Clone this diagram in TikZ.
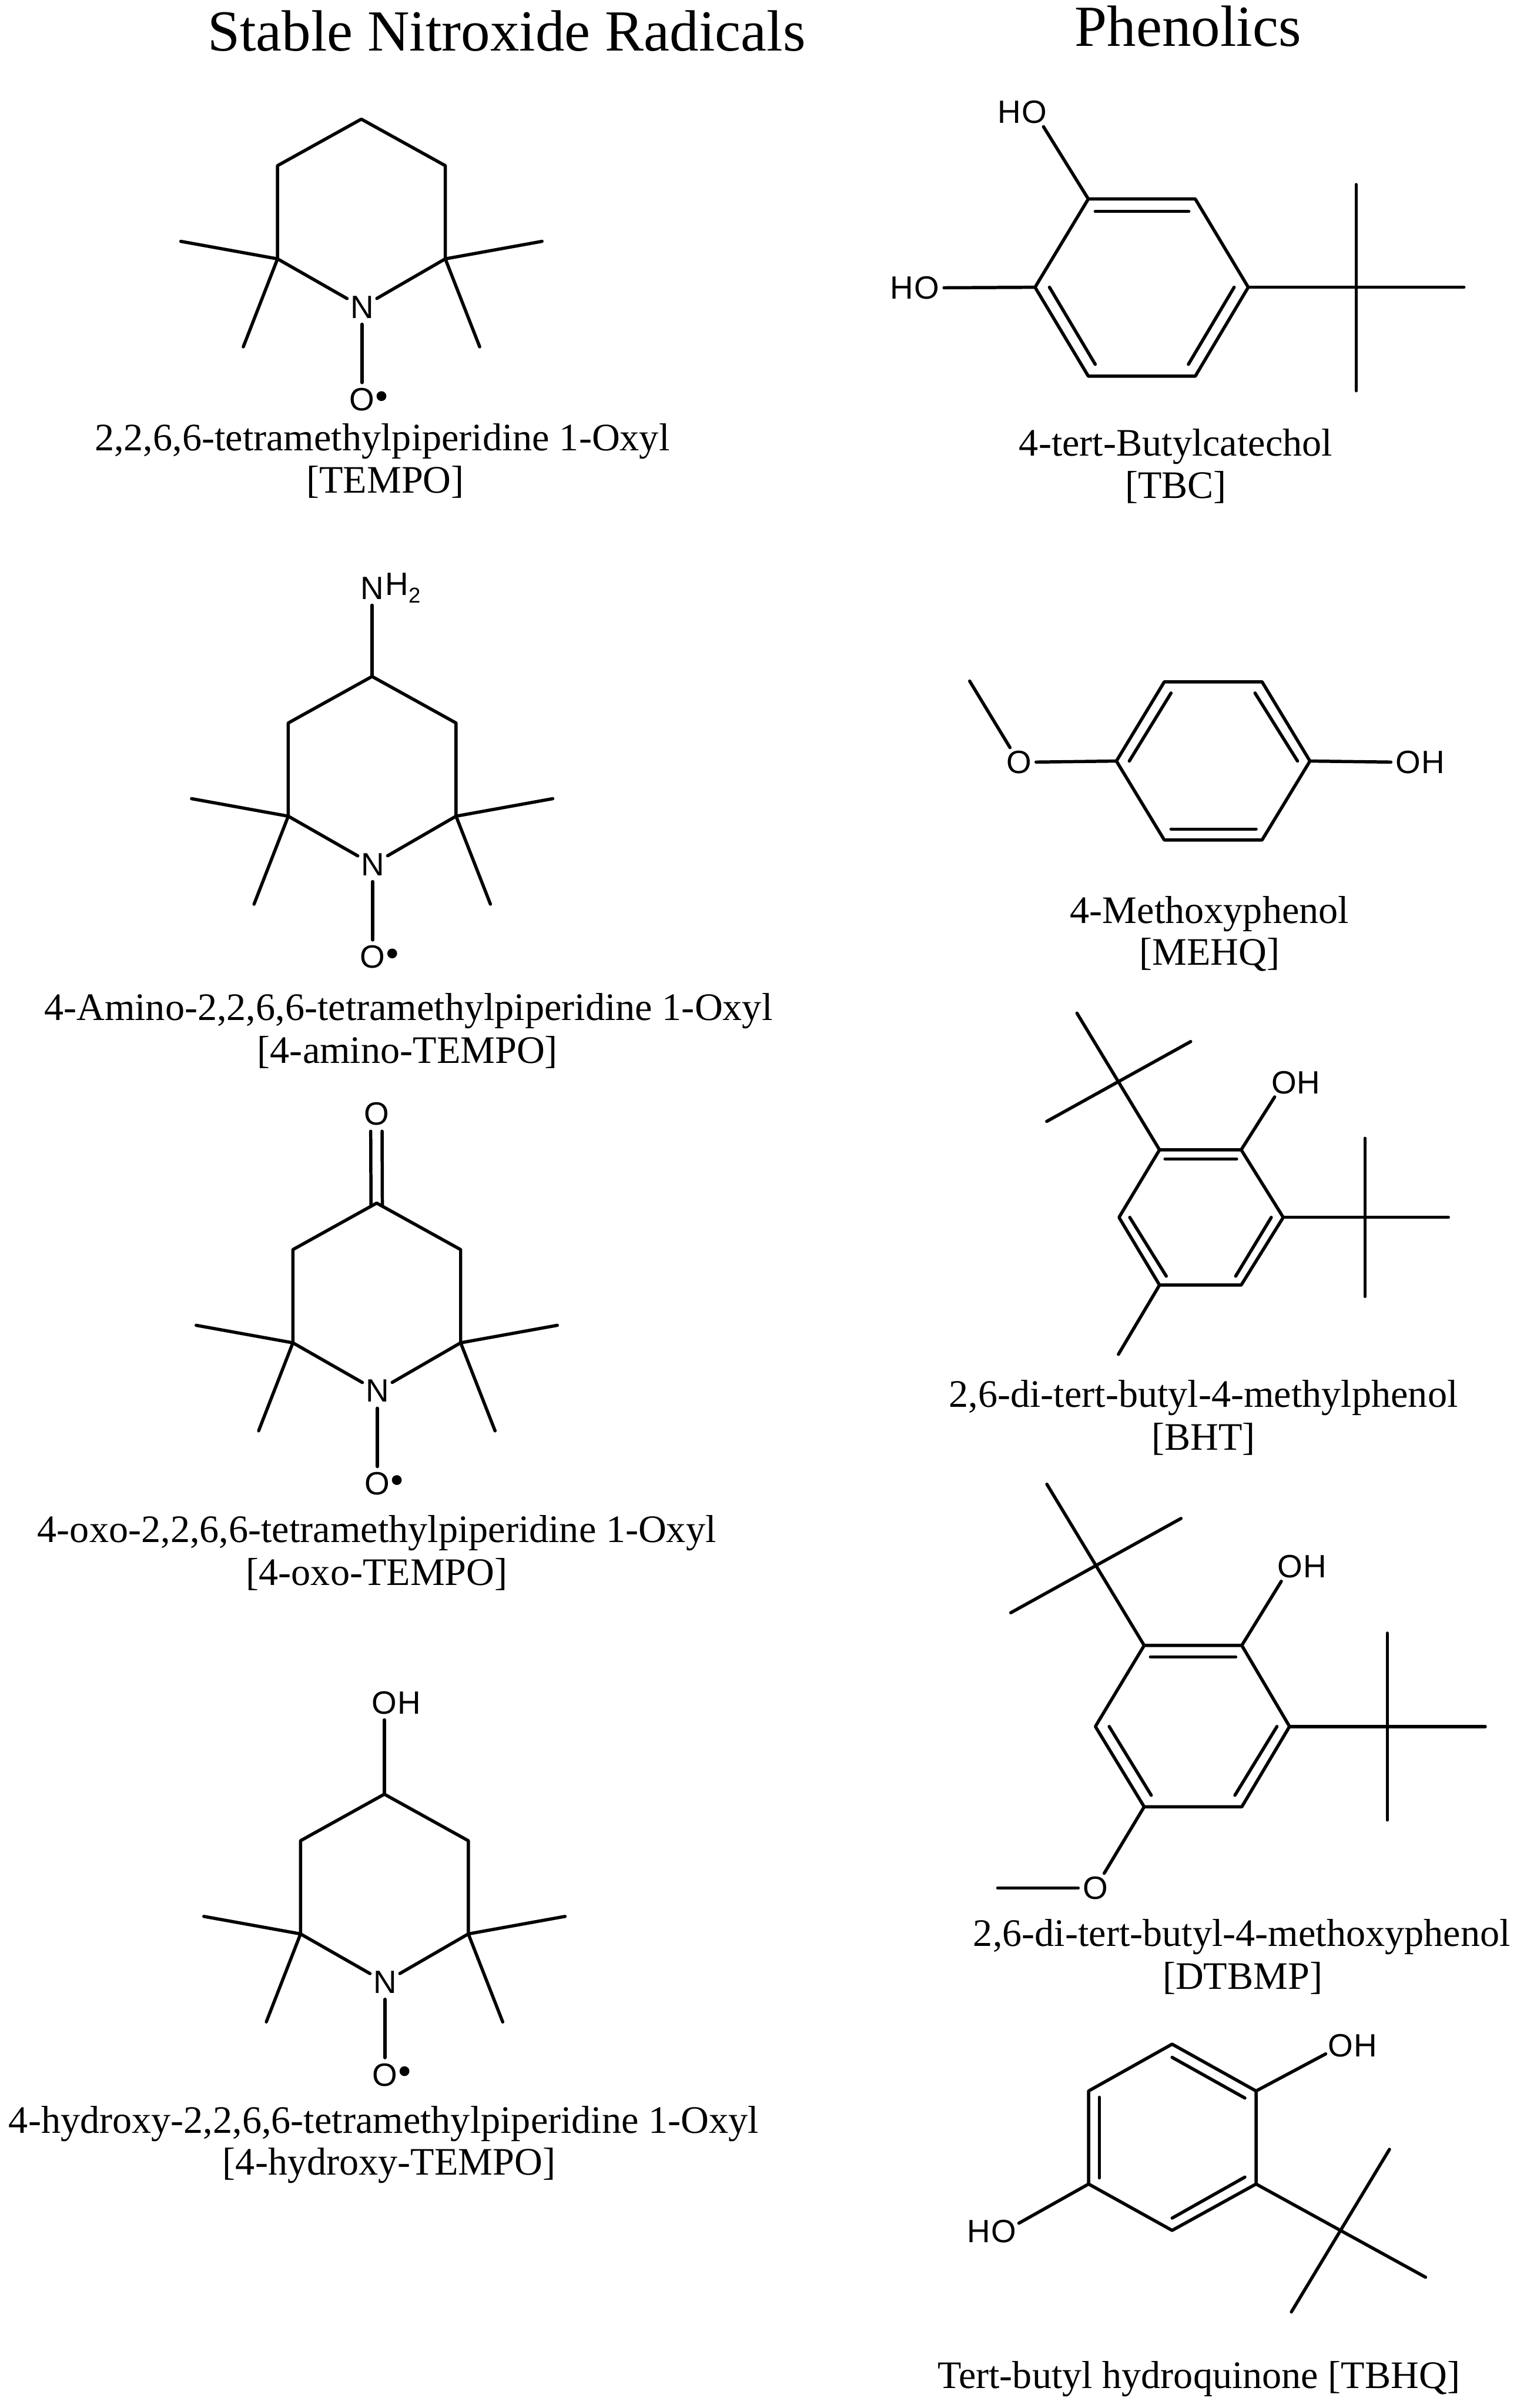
\documentclass[tikz,border=0pt]{standalone}
\usepackage{fontspec}
\usepackage{tikz}
\usetikzlibrary{positioning}
\setmainfont{Liberation Serif}
\newfontfamily\atomfont{Liberation Sans}
\definecolor{ink}{RGB}{0,0,0}
\tikzset{
  bond/.style={draw=ink, line width=2.1pt, line cap=round, line join=round},
  atom/.style={circle, inner sep=0pt, minimum size=22pt, text=ink, font=\atomfont\fontsize{21}{21}\selectfont},
  hatom/.style={inner sep=0pt, label distance=-2.8pt, text=ink, font=\atomfont\fontsize{21}{21}\selectfont},
  radical/.style={circle, fill=ink, inner sep=0pt, minimum size=6.4pt},
  caption/.style={anchor=base, inner sep=0pt, text=ink, font=\fontsize{25.35}{26}\selectfont},
  heading/.style={anchor=base, inner sep=0pt, text=ink, font=\fontsize{37.9}{38}\selectfont}
}
\begin{document}
\begin{tikzpicture}[x=1pt, y=-1pt]
        \useasboundingbox (0,0) rectangle (988,1568.4);

        % Headings
        \node[heading] (titleleft) at (330,33) {Stable Nitroxide Radicals};
        \node[heading] (titleright) at (774,30) {Phenolics};

        % TEMPO
        \coordinate (tempoC2) at (180.8,168.6);
        \coordinate (tempoC3) at (180.8,107.9);
        \coordinate (tempoC4) at (235.4,77.6);
        \coordinate (tempoC5) at (290.1,107.9);
        \coordinate (tempoC6) at (290.1,168.6);
        \coordinate (tempoMa) at (117.8,157.2);
        \coordinate (tempoMb) at (158.5,225.9);
        \coordinate (tempoMc) at (353.1,157.2);
        \coordinate (tempoMd) at (312.5,225.9);
        \node[atom] (tempoN) at (235.8,200) {N};
        \node[atom] (tempoO) at (235.8,260.4) {O};
        \node[radical] (tempoDot) at (248.5,258) {};
        \draw[bond] (tempoC2) -- (tempoC3) -- (tempoC4) -- (tempoC5) -- (tempoC6);
        \draw[bond] (tempoC2) -- (tempoN);
        \draw[bond] (tempoC6) -- (tempoN);
        \draw[bond] (tempoN) -- (tempoO);
        \draw[bond] (tempoMa) -- (tempoC2) -- (tempoMb);
        \draw[bond] (tempoMc) -- (tempoC6) -- (tempoMd);
        \node[caption] (tempoName) at (249,293.5) {2,2,6,6-tetramethylpiperidine 1-Oxyl};
        \node[caption] (tempoTag) at (251,321) {[TEMPO]};

        % 4-amino-TEMPO
        \begin{scope}[shift={(7,363)}]
            \coordinate (aminoC2) at (180.8,168.6);
            \coordinate (aminoC3) at (180.8,107.9);
            \coordinate (aminoC4) at (235.4,77.6);
            \coordinate (aminoC5) at (290.1,107.9);
            \coordinate (aminoC6) at (290.1,168.6);
            \coordinate (aminoMa) at (117.8,157.2);
            \coordinate (aminoMb) at (158.5,225.9);
            \coordinate (aminoMc) at (353.1,157.2);
            \coordinate (aminoMd) at (312.5,225.9);
            \node[atom] (aminoN) at (235.8,200) {N};
            \node[atom] (aminoO) at (235.8,260.4) {O};
            \node[radical] (aminoDot) at (248.5,258) {};
            \node[atom, label={[hatom]0:H\raisebox{-5pt}{\smash{\fontsize{14}{14}\selectfont 2}}}] (aminoNH) at (235.4,20) {N};
        \end{scope}
        \draw[bond] (aminoC2) -- (aminoC3) -- (aminoC4) -- (aminoC5) -- (aminoC6);
        \draw[bond] (aminoC2) -- (aminoN);
        \draw[bond] (aminoC6) -- (aminoN);
        \draw[bond] (aminoN) -- (aminoO);
        \draw[bond] (aminoC4) -- (aminoNH);
        \draw[bond] (aminoMa) -- (aminoC2) -- (aminoMb);
        \draw[bond] (aminoMc) -- (aminoC6) -- (aminoMd);
        \node[caption] (aminoName) at (266,664.5) {4-Amino-2,2,6,6-tetramethylpiperidine 1-Oxyl};
        \node[caption] (aminoTag) at (265.5,692.5) {[4-amino-TEMPO]};

        % 4-oxo-TEMPO
        \begin{scope}[shift={(10,706)}]
            \coordinate (oxoC2) at (180.8,168.6);
            \coordinate (oxoC3) at (180.8,107.9);
            \coordinate (oxoC4) at (235.4,77.6);
            \coordinate (oxoC5) at (290.1,107.9);
            \coordinate (oxoC6) at (290.1,168.6);
            \coordinate (oxoMa) at (117.8,157.2);
            \coordinate (oxoMb) at (158.5,225.9);
            \coordinate (oxoMc) at (353.1,157.2);
            \coordinate (oxoMd) at (312.5,225.9);
            \node[atom] (oxoN) at (235.8,200) {N};
            \node[atom] (oxoO) at (235.8,260.4) {O};
            \node[radical] (oxoDot) at (248.5,258) {};
            \node[atom] (oxoKeto) at (235.2,19.6) {O};
        \end{scope}
        \draw[bond] (oxoC2) -- (oxoC3) -- (oxoC4) -- (oxoC5) -- (oxoC6);
        \draw[bond] (oxoC2) -- (oxoN);
        \draw[bond] (oxoC6) -- (oxoN);
        \draw[bond] (oxoN) -- (oxoO);
        \draw[bond] ([xshift=-3.7pt]oxoKeto.south) -- ([xshift=-3.7pt,yshift=-2pt]oxoC4);
        \draw[bond] ([xshift=3.7pt]oxoKeto.south) -- ([xshift=3.7pt,yshift=-2pt]oxoC4);
        \draw[bond] (oxoMa) -- (oxoC2) -- (oxoMb);
        \draw[bond] (oxoMc) -- (oxoC6) -- (oxoMd);
        \node[caption] (oxoName) at (245.5,1004.5) {4-oxo-2,2,6,6-tetramethylpiperidine 1-Oxyl};
        \node[caption] (oxoTag) at (245.5,1032.5) {[4-oxo-TEMPO]};

        % 4-hydroxy-TEMPO
        \begin{scope}[shift={(15,1091)}]
            \coordinate (hydroxyC2) at (180.8,168.6);
            \coordinate (hydroxyC3) at (180.8,107.9);
            \coordinate (hydroxyC4) at (235.4,77.6);
            \coordinate (hydroxyC5) at (290.1,107.9);
            \coordinate (hydroxyC6) at (290.1,168.6);
            \coordinate (hydroxyMa) at (117.8,157.2);
            \coordinate (hydroxyMb) at (158.5,225.9);
            \coordinate (hydroxyMc) at (353.1,157.2);
            \coordinate (hydroxyMd) at (312.5,225.9);
            \node[atom] (hydroxyN) at (235.8,200) {N};
            \node[atom] (hydroxyO) at (235.8,260.4) {O};
            \node[radical] (hydroxyDot) at (248.5,258) {};
            \node[atom, label={[hatom]0:H}] (hydroxyOH) at (235.4,18) {O};
        \end{scope}
        \draw[bond] (hydroxyC2) -- (hydroxyC3) -- (hydroxyC4) -- (hydroxyC5) -- (hydroxyC6);
        \draw[bond] (hydroxyC2) -- (hydroxyN);
        \draw[bond] (hydroxyC6) -- (hydroxyN);
        \draw[bond] (hydroxyN) -- (hydroxyO);
        \draw[bond] (hydroxyC4) -- (hydroxyOH);
        \draw[bond] (hydroxyMa) -- (hydroxyC2) -- (hydroxyMb);
        \draw[bond] (hydroxyMc) -- (hydroxyC6) -- (hydroxyMd);
        \node[caption] (hydroxyName) at (250,1389.5) {4-hydroxy-2,2,6,6-tetramethylpiperidine 1-Oxyl};
        \node[caption] (hydroxyTag) at (253.5,1416.5) {[4-hydroxy-TEMPO]};

        % TBC
        \coordinate (tbcA) at (709,129.6);
        \coordinate (tbcB) at (778.7,129.6);
        \coordinate (tbcC) at (813.2,187.1);
        \coordinate (tbcD) at (778.7,245);
        \coordinate (tbcE) at (709,245);
        \coordinate (tbcF) at (674.3,187.1);
        \coordinate (tbcT) at (883.5,187.1);
        \coordinate (tbcTa) at (883.5,120.2);
        \coordinate (tbcTb) at (883.5,254.5);
        \coordinate (tbcTc) at (953.7,187.1);
        \coordinate (tbcIa) at (713.5,137.7);
        \coordinate (tbcIb) at (774.5,137.7);
        \coordinate (tbcIc) at (683.7,187.1);
        \coordinate (tbcId) at (713.5,237.3);
        \coordinate (tbcIe) at (804,187.1);
        \coordinate (tbcIf) at (774.2,237.3);
        \node[atom, label={[hatom]180:H}] (tbcOa) at (673.9,73) {O};
        \node[atom, label={[hatom]180:H}] (tbcOb) at (603.8,187.5) {O};
        \draw[bond] (tbcA) -- (tbcB) -- (tbcC) -- (tbcD) -- (tbcE) -- (tbcF) -- cycle;
        \draw[bond] (tbcIa) -- (tbcIb);
        \draw[bond] (tbcIc) -- (tbcId);
        \draw[bond] (tbcIe) -- (tbcIf);
        \draw[bond] (tbcA) -- (tbcOa);
        \draw[bond] (tbcF) -- (tbcOb);
        \draw[bond] (tbcC) -- (tbcTc);
        \draw[bond] (tbcTa) -- (tbcTb);
        \node[caption] (tbcName) at (766,297) {4-tert-Butylcatechol};
        \node[caption] (tbcTag) at (766,324.5) {[TBC]};

        % MEHQ
        \coordinate (mehqA) at (727.3,495.7);
        \coordinate (mehqB) at (758.5,444.1);
        \coordinate (mehqC) at (822.2,444.1);
        \coordinate (mehqD) at (853.4,495.7);
        \coordinate (mehqE) at (822.2,547.1);
        \coordinate (mehqF) at (758.5,547.1);
        \coordinate (mehqM) at (631.7,443.6);
        \coordinate (mehqIa) at (735.7,495.7);
        \coordinate (mehqIb) at (762.9,451.4);
        \coordinate (mehqIc) at (845.3,495.7);
        \coordinate (mehqId) at (817.6,451.4);
        \coordinate (mehqIe) at (762.9,540);
        \coordinate (mehqIf) at (818.3,540);
        \node[atom] (mehqO) at (663.8,496.5) {O};
        \node[atom, label={[hatom]0:H}] (mehqOH) at (917.3,496.5) {O};
        \draw[bond] (mehqA) -- (mehqB) -- (mehqC) -- (mehqD) -- (mehqE) -- (mehqF) -- cycle;
        \draw[bond] (mehqIa) -- (mehqIb);
        \draw[bond] (mehqIc) -- (mehqId);
        \draw[bond] (mehqIe) -- (mehqIf);
        \draw[bond] (mehqM) -- (mehqO);
        \draw[bond] (mehqO) -- (mehqA);
        \draw[bond] (mehqD) -- (mehqOH);
        \node[caption] (mehqName) at (788,601.5) {4-Methoxyphenol};
        \node[caption] (mehqTag) at (788,628.5) {[MEHQ]};

        % BHT
        \coordinate (bhtA) at (755.4,748.9);
        \coordinate (bhtB) at (808.6,748.9);
        \coordinate (bhtC) at (836,792.9);
        \coordinate (bhtD) at (808.6,837);
        \coordinate (bhtE) at (755.4,837);
        \coordinate (bhtF) at (729,792.9);
        \coordinate (bhtS) at (729,705);
        \coordinate (bhtSa) at (701.6,659.9);
        \coordinate (bhtSb) at (775.7,678.4);
        \coordinate (bhtSc) at (681.9,730.4);
        \coordinate (bhtT) at (889.2,792.9);
        \coordinate (bhtTa) at (889.2,741.4);
        \coordinate (bhtTb) at (889.2,844.4);
        \coordinate (bhtTc) at (943.6,792.9);
        \coordinate (bhtM) at (728.6,882.1);
        \coordinate (bhtIa) at (759,754.9);
        \coordinate (bhtIb) at (805.6,754.9);
        \coordinate (bhtIc) at (736,792.9);
        \coordinate (bhtId) at (759.8,831.2);
        \coordinate (bhtIe) at (828.2,792.9);
        \coordinate (bhtIf) at (805,831.2);
        \node[atom, label={[hatom]0:H}] (bhtOH) at (836.4,705) {O};
        \draw[bond] (bhtA) -- (bhtB) -- (bhtC) -- (bhtD) -- (bhtE) -- (bhtF) -- cycle;
        \draw[bond] (bhtIa) -- (bhtIb);
        \draw[bond] (bhtIc) -- (bhtId);
        \draw[bond] (bhtIe) -- (bhtIf);
        \draw[bond] (bhtB) -- (bhtOH);
        \draw[bond] (bhtA) -- (bhtSa);
        \draw[bond] (bhtSb) -- (bhtSc);
        \draw[bond] (bhtC) -- (bhtTc);
        \draw[bond] (bhtTa) -- (bhtTb);
        \draw[bond] (bhtE) -- (bhtM);
        \node[caption] (bhtName) at (784,916.5) {2,6-di-tert-butyl-4-methylphenol};
        \node[caption] (bhtTag) at (784,944.5) {[BHT]};

        % DTBMP
        \coordinate (dtbmpA) at (745.4,1071.7);
        \coordinate (dtbmpB) at (809,1071.7);
        \coordinate (dtbmpC) at (840.1,1124.5);
        \coordinate (dtbmpD) at (809,1176.8);
        \coordinate (dtbmpE) at (745.4,1176.8);
        \coordinate (dtbmpF) at (713.6,1124.5);
        \coordinate (dtbmpS) at (713.6,1020);
        \coordinate (dtbmpSa) at (682,966.7);
        \coordinate (dtbmpSb) at (769.4,989);
        \coordinate (dtbmpSc) at (658.5,1050.4);
        \coordinate (dtbmpT) at (903.8,1124.5);
        \coordinate (dtbmpTa) at (903.8,1063.7);
        \coordinate (dtbmpTb) at (903.8,1185.4);
        \coordinate (dtbmpTc) at (967.6,1124.5);
        \coordinate (dtbmpM) at (650,1229.7);
        \coordinate (dtbmpIa) at (749.5,1079.2);
        \coordinate (dtbmpIb) at (805,1079.2);
        \coordinate (dtbmpIc) at (722.6,1124.5);
        \coordinate (dtbmpId) at (750,1169.3);
        \coordinate (dtbmpIe) at (831.9,1124.5);
        \coordinate (dtbmpIf) at (804.5,1169.3);
        \node[atom, label={[hatom]0:H}] (dtbmpOH) at (840.6,1020.4) {O};
        \node[atom] (dtbmpO) at (713.6,1229.7) {O};
        \draw[bond] (dtbmpA) -- (dtbmpB) -- (dtbmpC) -- (dtbmpD) -- (dtbmpE) -- (dtbmpF) -- cycle;
        \draw[bond] (dtbmpIa) -- (dtbmpIb);
        \draw[bond] (dtbmpIc) -- (dtbmpId);
        \draw[bond] (dtbmpIe) -- (dtbmpIf);
        \draw[bond] (dtbmpB) -- (dtbmpOH);
        \draw[bond] (dtbmpA) -- (dtbmpSa);
        \draw[bond] (dtbmpSb) -- (dtbmpSc);
        \draw[bond] (dtbmpC) -- (dtbmpTc);
        \draw[bond] (dtbmpTa) -- (dtbmpTb);
        \draw[bond] (dtbmpE) -- (dtbmpO);
        \draw[bond] (dtbmpO) -- (dtbmpM);
        \node[caption] (dtbmpName) at (809,1267.5) {2,6-di-tert-butyl-4-methoxyphenol};
        \node[caption] (dtbmpTag) at (809.5,1295.5) {[DTBMP]};

        % TBHQ
        \coordinate (tbhqA) at (763.6,1331.4);
        \coordinate (tbhqB) at (818.3,1361.9);
        \coordinate (tbhqC) at (818.3,1422.5);
        \coordinate (tbhqD) at (763.6,1452.7);
        \coordinate (tbhqE) at (709.2,1422.5);
        \coordinate (tbhqF) at (709.2,1361.9);
        \coordinate (tbhqT) at (873.4,1453);
        \coordinate (tbhqTa) at (905.2,1399.9);
        \coordinate (tbhqTb) at (928.7,1483.2);
        \coordinate (tbhqTc) at (841.3,1505.8);
        \coordinate (tbhqIa) at (763.6,1340);
        \coordinate (tbhqIb) at (811,1366.5);
        \coordinate (tbhqIc) at (716.2,1366);
        \coordinate (tbhqId) at (716.2,1418.5);
        \coordinate (tbhqIe) at (763.6,1444.7);
        \coordinate (tbhqIf) at (811,1418);
        \node[atom, label={[hatom]0:H}] (tbhqOa) at (873.5,1332.5) {O};
        \node[atom, label={[hatom]180:H}] (tbhqOb) at (654,1453.5) {O};
        \draw[bond] (tbhqA) -- (tbhqB) -- (tbhqC) -- (tbhqD) -- (tbhqE) -- (tbhqF) -- cycle;
        \draw[bond] (tbhqIa) -- (tbhqIb);
        \draw[bond] (tbhqIc) -- (tbhqId);
        \draw[bond] (tbhqIe) -- (tbhqIf);
        \draw[bond] (tbhqB) -- (tbhqOa);
        \draw[bond] (tbhqE) -- (tbhqOb);
        \draw[bond] (tbhqC) -- (tbhqTb);
        \draw[bond] (tbhqTa) -- (tbhqTc);
        \node[caption] (tbhqName) at (781,1555.5) {Tert-butyl hydroquinone [TBHQ]};
    \end{tikzpicture}
\end{document}
